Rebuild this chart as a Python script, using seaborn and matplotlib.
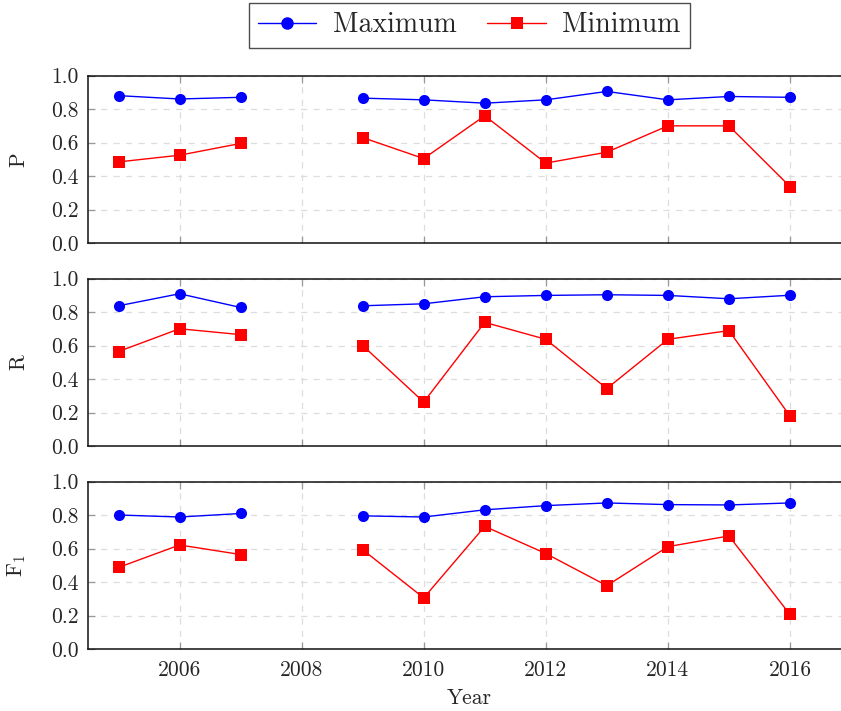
import numpy as np
import pandas as pd
import seaborn as sns
import matplotlib
matplotlib.use("Agg")
import matplotlib.pyplot as plt
from matplotlib.lines import Line2D

# ---- data -------------------------------------------------------------
years = [2005, 2006, 2007, 2009, 2010, 2011, 2012, 2013, 2014, 2015, 2016]

p_max = [0.88, 0.86, 0.87, 0.865, 0.855, 0.835, 0.855, 0.905, 0.855, 0.875, 0.87]
p_min = [0.485, 0.525, 0.595, 0.63, 0.505, 0.76, 0.478, 0.543, 0.70, 0.70, 0.338]

r_max = [0.837, 0.909, 0.827, 0.837, 0.849, 0.891, 0.899, 0.903, 0.899, 0.879, 0.90]
r_min = [0.564, 0.70, 0.665, 0.60, 0.262, 0.738, 0.637, 0.343, 0.637, 0.689, 0.179]

f_max = [0.80, 0.788, 0.809, 0.795, 0.788, 0.831, 0.856, 0.872, 0.862, 0.86, 0.872]
f_min = [0.487, 0.621, 0.564, 0.593, 0.305, 0.732, 0.570, 0.378, 0.611, 0.675, 0.206]

metrics = ["P", "R", "F$_1$"]
series_names = ["Maximum", "Minimum"]
y_ticks = [0.0, 0.2, 0.4, 0.6, 0.8, 1.0]
y_tick_labels = ["0.0", "0.2", "0.4", "0.6", "0.8", "1.0"]
x_ticks = [2006, 2008, 2010, 2012, 2014, 2016]

# ---- long table ---------------------------------------------------------
rows = []
for metric, (mx, mn) in zip(metrics, [(p_max, p_min), (r_max, r_min), (f_max, f_min)]):
    for name, vals in zip(series_names, (mx, mn)):
        for yr, v in zip(years, vals):
            # no data for 2008: split each line into two runs
            rows.append({"Metric": metric, "Series": name, "Year": yr,
                         "Value": v, "Run": 0 if yr < 2008 else 1})
df = pd.DataFrame(rows)

# ---- style ------------------------------------------------------------
sns.set_theme(style="white")
plt.rcParams["font.family"] = ["cmr10", "DejaVu Serif"]
plt.rcParams["mathtext.fontset"] = "cm"
plt.rcParams["axes.formatter.use_mathtext"] = True
plt.rcParams["axes.unicode_minus"] = False

palette = {"Maximum": "#0000ff", "Minimum": "#ff0000"}
markers = {"Maximum": "o", "Minimum": "s"}

W, H = 841, 711
fig = plt.figure(figsize=(W / 100, H / 100), dpi=100)

left_px, right_px = 88, 851
panel_px = [(75.5, 243.3), (278.5, 446.0), (481.5, 649.0)]

axes = []
for i, (metric, (top, bot)) in enumerate(zip(metrics, panel_px)):
    ax = fig.add_axes([left_px / W, 1 - bot / H, (right_px - left_px) / W, (bot - top) / H])
    axes.append(ax)
    sub = df[df["Metric"] == metric]
    sns.lineplot(data=sub, x="Year", y="Value", hue="Series", style="Series",
                 units="Run", estimator=None, palette=palette, markers=markers,
                 dashes=False, linewidth=1.0, markersize=8, markeredgewidth=0,
                 legend=False, ax=ax, sort=True)
    ax.set_xlim(2004.5, 2017.0)
    ax.set_ylim(0, 1)
    ax.set_xticks(x_ticks)
    ax.set_yticks(y_ticks)
    ax.set_yticklabels(y_tick_labels)
    ax.grid(True, color="#dddddd", linestyle=(0, (5, 5)), linewidth=0.9)
    ax.set_axisbelow(True)
    ax.tick_params(axis="x", direction="in", top=True, bottom=True, length=5,
                   color="#999999", width=0.9, labelsize=15.5, pad=8)
    ax.tick_params(axis="y", direction="in", left=True, right=True, length=5,
                   color="#999999", width=0.9, labelsize=15.5, pad=7)
    for s in ax.spines.values():
        s.set_color("#111111")
        s.set_linewidth(1.1)
    ax.set_ylabel(metric, fontsize=15.5)
    ax.yaxis.set_label_coords(-0.078, 0.5)
    if i < 2:
        ax.set_xticklabels([])
        ax.set_xlabel("")
    else:
        ax.set_xticklabels([str(x) for x in x_ticks])
        ax.set_xlabel("Year", fontsize=15.5)
        ax.xaxis.set_label_coords(0.5, -0.235)

handles = [Line2D([], [], color=palette[n], marker=markers[n], markersize=9,
                  markeredgewidth=0, linewidth=1.0, label=n) for n in series_names]
leg = fig.legend(handles=handles, loc="upper center", ncol=2,
                 bbox_to_anchor=(469.5 / W, 1 - 3 / H), fontsize=20,
                 frameon=True, fancybox=False, edgecolor="#222222",
                 handlelength=2.1, columnspacing=1.1, handletextpad=0.6,
                 borderpad=0.33, borderaxespad=0.0)
leg.get_frame().set_linewidth(1.0)

fig.savefig("out.png", dpi=100)
